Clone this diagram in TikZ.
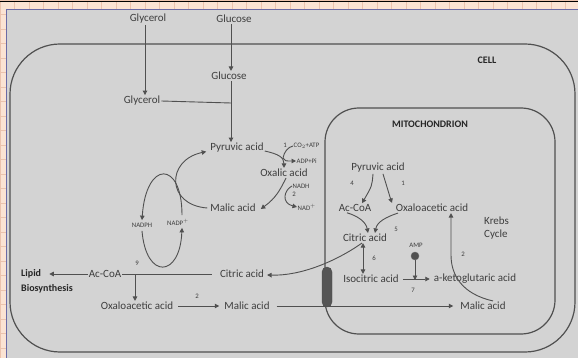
\documentclass[tikz,border=0pt]{standalone}
\usepackage{fontspec}
\setmainfont{Carlito}
\usetikzlibrary{arrows.meta,calc}
\definecolor{peach}{HTML}{FBE3D3}
\definecolor{gridc}{HTML}{EBC3AE}
\definecolor{panel}{HTML}{D3D3D3}
\definecolor{ink}{HTML}{505050}
\definecolor{txt}{HTML}{3E3E3E}
\definecolor{framec}{HTML}{6B6BA6}
\definecolor{transc}{HTML}{555555}
\begin{document}
\begin{tikzpicture}[x=1pt,y=-1pt,
 lbl/.style={font=\fontsize{11}{12}\selectfont, text=txt, inner sep=1pt},
 sm/.style={font=\fontsize{6.8}{7}\selectfont, text=txt, inner sep=0.5pt},
 num/.style={font=\fontsize{6.8}{7}\selectfont, text=txt, inner sep=0.5pt},
 bld/.style={font=\bfseries\fontsize{10}{12}\selectfont, text=black!85, inner sep=1pt},
 con/.style={draw=ink, line width=0.9pt},
 arr/.style={con, -{Triangle[length=4.5pt,width=4.5pt]}},
 dbl/.style={con, {Triangle[length=4.5pt,width=4.5pt]}-{Triangle[length=4.5pt,width=4.5pt]}},
 membrane/.style={draw=ink, line width=1.2pt},
]
\useasboundingbox (0,0) rectangle (578,358);
% background
\fill[peach] (0,0) rectangle (578,358);
\foreach \i in {0,...,40} {\draw[gridc, line width=0.5pt] (\i*14.5,0) -- (\i*14.5,358);}
\foreach \i in {0,...,25} {\draw[gridc, line width=0.5pt] (0,\i*14.5) -- (578,\i*14.5);}
\draw[black, line width=1.2pt] (0,1.5) -- (578,1.5);
\fill[panel] (6,9.5) rectangle (578,358);
\draw[framec, line width=1pt] (6,358) -- (6,9.5) -- (578,9.5);
% membranes
\draw[membrane, rounded corners=50] (10,44) rectangle (575,352);
\draw[membrane, rounded corners=34] (325,108) rectangle (555,334);
% labels
\node[bld] (cell) at (487,60) {CELL};
\node[bld] (mito) at (430,124) {MITOCHONDRION};
% cytosol nodes
\node[lbl] (glyT) at (148,19) {Glycerol};
\node[lbl] (gluT) at (234,19) {Glucose};
\node[lbl] (glu) at (229,76) {Glucose};
\node[lbl] (gly) at (142,101) {Glycerol};
\coordinate (jn) at (231,103);
\node[lbl] (pyr) at (237,148) {Pyruvic acid};
\node[lbl] (oxal) at (284,173) {Oxalic acid};
\node[lbl] (malC) at (233,208) {Malic acid};
\node[num] (n1) at (285,145) {1};
\node[sm, anchor=west] (co2) at (293,146) {CO$_2$+ATP};
\node[sm, anchor=west] (adp) at (296,161) {ADP+Pi};
\node[sm, anchor=west] (nadh) at (292,186) {NADH};
\node[num] (n2a) at (294,194) {2};
\node[sm, anchor=west] (nadp) at (297,207) {NAD$^+$};
\node[sm] (nadph) at (142,225) {NADPH};
\node[sm] (nadpp) at (178,222) {NADP$^+$};
\node[num] (n9) at (137,263) {9};
\node[lbl] (acC) at (105,274) {Ac-CoA};
\node[bld, anchor=west] (lipid) at (20,274) {Lipid};
\node[bld, anchor=west] (bio) at (20,289) {Biosynthesis};
\node[lbl] (citC) at (242,274) {Citric acid};
\coordinate (j9) at (135,274);
\node[lbl] (oaaC) at (137,306) {Oxaloacetic acid};
\node[num] (n2b) at (197,296) {2};
\node[lbl] (malC2) at (247,306) {Malic acid};
% mitochondrion nodes
\node[lbl] (pyrM) at (378,168) {Pyruvic acid};
\node[num] (n4) at (352,183) {4};
\node[num] (n1m) at (403,183) {1};
\node[lbl] (acM) at (355,208) {Ac-CoA};
\node[lbl] (oaaM) at (432,208) {Oxaloacetic acid};
\node[lbl, anchor=west] (krebs) at (483,221) {Krebs};
\node[lbl, anchor=west] (cyc) at (483,235) {Cycle};
\node[num] (n5) at (396,229) {5};
\node[lbl] (citM) at (365,238) {Citric acid};
\node[num] (n6) at (374,258) {6};
\node[sm] (amp) at (416,245) {AMP};
\node[circle, fill=ink, draw=black!60, minimum size=8pt, inner sep=0pt] (dot) at (415,256) {};
\node[num] (n2c) at (463,254) {2};
\node[lbl] (iso) at (371,279) {Isocitric acid};
\coordinate (j7) at (415,279);
\node[lbl] (akg) at (475,279) {a-ketoglutaric acid};
\node[num] (n7) at (413,290) {7};
\node[lbl] (malM) at (483,306) {Malic acid};
\node[draw=black!70, fill=transc, rounded corners=5pt, minimum width=10pt, minimum height=40pt, inner sep=0pt] (trans) at (327,287) {};
% connectors
\draw[arr] (gluT.south -| jn) -- (glu.north -| jn);
\draw[arr] (glyT.south -| {(145,0)}) -- (gly.north -| {(145,0)});
\draw[con] (gly.east) -- (jn);
\draw[arr] (glu.south -| jn) -- (pyr.north -| jn);
% pyruvic -> oxalic
\draw[arr] ([yshift=-3pt]pyr.east) .. controls (278,154) and (284,157) .. (oxal.north);
\draw[arr] (co2.west) .. controls (288,147) and (284,152) .. (283,158) .. controls (285,161) .. (adp.west);
% oxalic -> malic
\draw[arr] ([xshift=2pt]oxal.south) .. controls (280,190) and (276,198) .. ([xshift=4pt,yshift=-1pt]malC.east);
\draw[arr] (nadh.west) .. controls (284,190) and (281,203) .. (nadp.west);
% malic -> pyruvic loop
\draw[arr, shorten >=3pt] ([xshift=-2pt]malC.west) .. controls (166,205) and (166,160) .. ([yshift=-3pt]pyr.west);
% NADPH cycle
\draw[arr] ([xshift=4pt,yshift=3pt]nadpp.north) .. controls (182,160) and (146,160) .. ([yshift=2pt]nadph.north);
\draw[arr] ([yshift=-3pt]nadph.south) .. controls (146,280) and (180,278) .. ([xshift=4pt,yshift=-2pt]nadpp.south);
% ac-coa branch
\draw[arr, shorten >=7pt] (acC.west) -- (lipid.east);
\draw[con, shorten >=7pt] (acC.east) -- (citC.west);
\draw[arr] (j9) -- (j9 |- oaaC.north);
\draw[arr, shorten <=4pt, shorten >=4pt] (oaaC.east) -- (malC2.west);
\draw[arr, shorten <=6pt, shorten >=6pt] (malC2.east) -- (malM.west);
% citrate out of mitochondrion
\draw[arr] ([xshift=-3pt]citM.south) .. controls (335,262) and (300,276) .. ([xshift=2pt,yshift=-1pt]citC.east);
% mito arrows
\draw[arr] ([xshift=-5pt]pyrM.south) .. controls (372,186) .. ([xshift=7pt]acM.north);
\draw[arr] ([xshift=5pt]pyrM.south) .. controls (386,186) .. ([xshift=-40pt]oaaM.north);
\draw[arr] ([xshift=-8pt]acM.south) .. controls (358,216) and (366,222) .. ([xshift=3pt]citM.north);
\draw[arr] ([xshift=-34pt]oaaM.south) .. controls (386,217) and (377,222) .. ([xshift=10pt]citM.north);
\draw[dbl] ([xshift=-2pt]citM.south) -- ([xshift=-2pt]citM.south |- iso.north);
\draw[arr, shorten <=3pt, shorten >=3pt] (iso.east) -- (akg.west);
\draw[arr] (dot.south) -- ([yshift=-1pt]j7);
\draw[arr] ([xshift=10pt]malM.north) .. controls (462,294) and (451,275) .. (451,255) -- ([xshift=19pt]oaaM.south);
\end{tikzpicture}
\end{document}
